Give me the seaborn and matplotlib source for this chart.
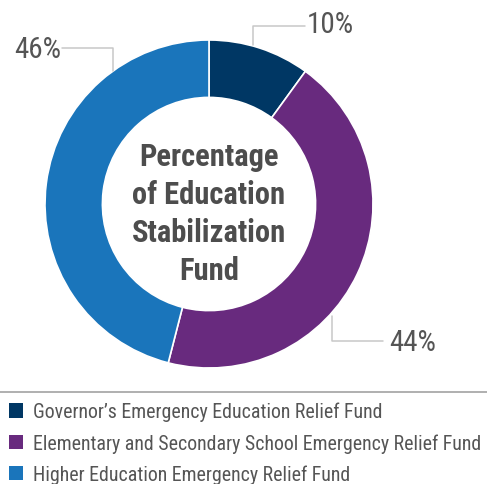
import matplotlib
matplotlib.use("Agg")
import matplotlib.pyplot as plt
import seaborn as sns

categories = ["Governor’s Emergency Education Relief Fund",
              "Elementary and Secondary School Emergency Relief Fund",
              "Higher Education Emergency Relief Fund"]
values = [10, 44, 46]
labels = ["10%", "44%", "46%"]
colors = ["#003764", "#682a7e", "#1a75bb"]
center_title = "Percentage\nof Education\nStabilization\nFund"

sns.set_theme(style="white")
plt.rcParams['font.family'] = ['Roboto Condensed', 'Archivo Narrow', 'DejaVu Sans']

W, H = 487, 485
fig = plt.figure(figsize=(W / 100, H / 100), dpi=100)
ax = fig.add_axes([0, 0, 1, 1])

def Y(py):
    return H - py

cx, cy, R = 209, Y(205), 164
wedges, _ = ax.pie(values, colors=colors, startangle=90, counterclock=False,
                   center=(cx, cy), radius=R, frame=True,
                   wedgeprops=dict(width=R * 0.35, edgecolor="white", linewidth=1.2))
ax.set_xlim(0, W)
ax.set_ylim(0, H)
ax.set_aspect("equal")
ax.axis("off")

ax.text(cx, Y(214), center_title, ha="center", va="center", fontsize=22,
        fontweight="bold", color="#4d4d4d", linespacing=1.33)

lc = "#c8c8c8"
txtc = "#555555"
ax.plot([253, 253, 305], [Y(46), Y(27), Y(27)], color=lc, lw=1.1)
ax.text(307, Y(25), labels[0], ha="left", va="center", fontsize=21, color=txtc)
ax.plot([332, 332, 383], [Y(317), Y(342), Y(342)], color=lc, lw=1.1)
ax.text(389, Y(343), labels[1], ha="left", va="center", fontsize=21, color=txtc)
ax.plot([113, 113, 62], [Y(72), Y(49), Y(49)], color=lc, lw=1.1)
ax.text(61, Y(50), labels[2], ha="right", va="center", fontsize=21, color=txtc)

ax.plot([0, W], [Y(393), Y(393)], color="#9a9a9a", lw=1.1)

leg = ax.legend(wedges, categories, loc="upper left",
                bbox_to_anchor=(9 / W, Y(403) / H), bbox_transform=fig.transFigure,
                frameon=False, fontsize=14.3, labelspacing=0.6,
                handlelength=0.72, handleheight=0.72, handletextpad=0.5,
                borderpad=0, borderaxespad=0)
for t in leg.get_texts():
    t.set_color(txtc)
for h in leg.legend_handles:
    h.set_edgecolor("none")

fig.savefig("out.png", dpi=100)
